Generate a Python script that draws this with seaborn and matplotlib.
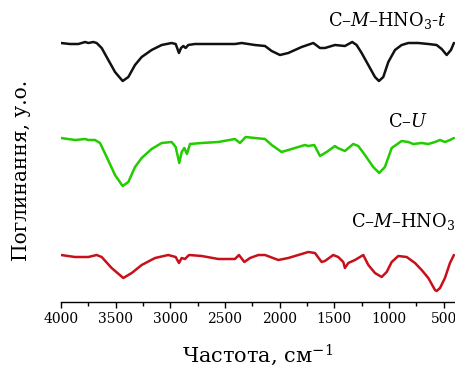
import matplotlib
matplotlib.use("Agg")
import matplotlib.pyplot as plt
import seaborn as sns
import pandas as pd
from matplotlib.ticker import MultipleLocator

# ---- data (wavenumber, cm^-1 ; signal, arb. units) ----
wn_t = [4000, 3918, 3841, 3780, 3750, 3705, 3674, 3628, 3567, 3506, 3436, 3384, 3323, 3262,
        3171, 3079, 2988, 2951, 2921, 2902, 2881, 2860, 2836, 2775, 2592, 2409, 2347, 2226,
        2134, 2073, 1997, 1921, 1799, 1692, 1631, 1586, 1494, 1403, 1336, 1296, 1250, 1189,
        1128, 1092, 1052, 1006, 945, 884, 823, 732, 640, 564, 518, 472, 433, 406]
y_t = [2.59, 2.58, 2.58, 2.60, 2.59, 2.60, 2.59, 2.54, 2.42, 2.30, 2.21, 2.25, 2.37, 2.45,
       2.52, 2.57, 2.59, 2.58, 2.49, 2.54, 2.56, 2.54, 2.57, 2.58, 2.58, 2.58, 2.59, 2.57,
       2.56, 2.51, 2.47, 2.49, 2.55, 2.59, 2.54, 2.54, 2.57, 2.56, 2.60, 2.57, 2.49, 2.37,
       2.25, 2.21, 2.25, 2.40, 2.52, 2.57, 2.59, 2.59, 2.58, 2.57, 2.53, 2.47, 2.52, 2.59]

wn_u = [4000, 3872, 3780, 3750, 3689, 3643, 3582, 3506, 3436, 3384, 3323, 3262, 3171, 3079,
        2988, 2951, 2918, 2896, 2872, 2848, 2820, 2713, 2561, 2409, 2363, 2311, 2226, 2134,
        2073, 1982, 1860, 1768, 1738, 1683, 1631, 1570, 1494, 1469, 1403, 1327, 1281, 1220,
        1144, 1089, 1037, 975, 884, 823, 778, 701, 640, 579, 533, 488, 442, 406]
y_u = [1.64, 1.62, 1.63, 1.62, 1.62, 1.59, 1.45, 1.27, 1.16, 1.20, 1.35, 1.44, 1.53, 1.59,
       1.60, 1.55, 1.39, 1.50, 1.54, 1.48, 1.58, 1.59, 1.60, 1.63, 1.59, 1.65, 1.64, 1.63,
       1.57, 1.50, 1.54, 1.57, 1.56, 1.57, 1.46, 1.50, 1.56, 1.54, 1.51, 1.58, 1.56, 1.47,
       1.35, 1.29, 1.35, 1.54, 1.61, 1.60, 1.58, 1.59, 1.58, 1.60, 1.62, 1.60, 1.62, 1.64]

wn_m = [4000, 3872, 3750, 3674, 3628, 3537, 3430, 3353, 3262, 3140, 3019, 2951, 2921, 2896,
        2866, 2829, 2713, 2561, 2409, 2372, 2323, 2271, 2195, 2134, 2012, 1921, 1738, 1677,
        1616, 1586, 1510, 1464, 1418, 1403, 1372, 1311, 1235, 1189, 1128, 1067, 1021, 975,
        915, 838, 762, 701, 640, 579, 564, 533, 488, 442, 406]
y_m = [0.47, 0.45, 0.45, 0.47, 0.45, 0.34, 0.24, 0.29, 0.37, 0.44, 0.47, 0.45, 0.39, 0.44,
       0.43, 0.47, 0.46, 0.43, 0.43, 0.47, 0.40, 0.44, 0.47, 0.47, 0.42, 0.44, 0.50, 0.49,
       0.40, 0.41, 0.47, 0.45, 0.40, 0.34, 0.39, 0.42, 0.47, 0.37, 0.29, 0.25, 0.30, 0.40,
       0.46, 0.45, 0.39, 0.32, 0.24, 0.12, 0.11, 0.14, 0.24, 0.39, 0.47]

labels = [r"C–$M$–HNO$_3$-$t$", r"C–$U$", r"C–$M$–HNO$_3$"]
colors = ["#111111", "#22CC00", "#C8101A"]
xticks = [4000, 3500, 3000, 2500, 2000, 1500, 1000, 500]

sns.set_theme(style="white")
plt.rcParams["font.family"] = ["DejaVu Serif"]
plt.rcParams["mathtext.fontset"] = "custom"
plt.rcParams["mathtext.rm"] = "DejaVu Serif"
plt.rcParams["mathtext.it"] = "DejaVu Serif:italic"

fig = plt.figure(figsize=(4.56, 3.67), dpi=100)
ax = fig.add_axes([61 / 456, 65 / 367, 394 / 456, 297 / 367])

for wn, y, c in [(wn_t, y_t, colors[0]), (wn_u, y_u, colors[1]), (wn_m, y_m, colors[2])]:
    df = pd.DataFrame({"wn": wn, "y": y})
    sns.lineplot(data=df, x="wn", y="y", color=c, lw=1.8, ax=ax, legend=False)

ax.set_xlim(4000, 396)
ax.set_ylim(0, 2.97)
ax.set_xticks(xticks)
ax.xaxis.set_minor_locator(MultipleLocator(250))
ax.set_yticks([])
for s in ["left", "right", "top"]:
    ax.spines[s].set_visible(False)
ax.spines["bottom"].set_color("black")
ax.spines["bottom"].set_linewidth(1.0)
ax.tick_params(axis="x", which="major", direction="out", length=4.5, width=1.0,
               colors="black", labelsize=10, pad=3, bottom=True)
ax.tick_params(axis="x", which="minor", direction="out", length=3, width=1.0,
               colors="black", bottom=True)

ax.set_xlabel(r"Частота, см$^{-1}$", fontsize=15, color="black", labelpad=12)
ax.set_ylabel("Поглинання, у.о.", fontsize=14.5, color="black")
ax.yaxis.set_label_coords(-0.075, 0.444)

ax.text(470, 2.82, labels[0], ha="right", va="center", fontsize=12.8, color="black")
ax.text(643, 1.80, labels[1], ha="right", va="center", fontsize=12.8, color="black")
ax.text(396, 0.80, labels[2], ha="right", va="center", fontsize=12.8, color="black")

fig.savefig("out.png", dpi=100)
